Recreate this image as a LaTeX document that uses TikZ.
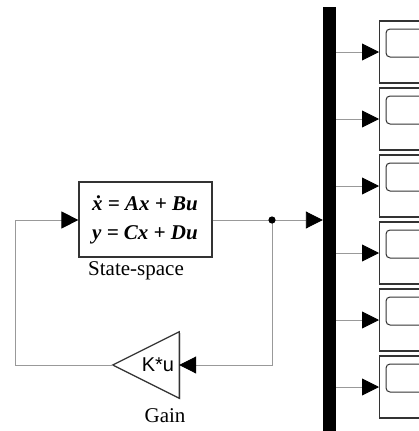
\documentclass[tikz,border=0pt]{standalone}
\usepackage{fontspec}
\setmainfont{Liberation Serif}
\newfontfamily\gainfont{Liberation Sans}
\usetikzlibrary{arrows.meta,shadows,calc}

\tikzset{
  wire/.style={draw=black!40, line width=0.9pt},
  sig/.style={wire, -{Triangle[length=17pt,width=17pt,color=black]}},
  blockbox/.style={draw=black!80, line width=1.2pt, fill=white,
    drop shadow={shadow xshift=1.2pt, shadow yshift=-1.2pt, fill=black!45, opacity=1}},
  scopebox/.style={blockbox, minimum width=80pt, minimum height=62pt, inner sep=0pt},
  screen/.style={draw=black!80, line width=1pt, rounded corners=4pt},
  lbl/.style={font=\fontsize{21}{24}\selectfont, inner sep=0pt},
}

\begin{document}
\begin{tikzpicture}[x=1pt,y=-1pt]
\useasboundingbox (0,0) rectangle (418,431);
\fill[white] (0,0) rectangle (418,431);

% bus bar
\node[fill=black, minimum width=13pt, minimum height=440pt, inner sep=0pt, anchor=north] (bus) at (329.5,7) {};

% state-space block
\node[blockbox, minimum width=133pt, minimum height=75pt, inner sep=0pt] (ss) at (145.5,219.5) {};
\node[lbl, anchor=base] (eq1) at (145,210) {\bfseries\itshape ẋ = Ax + Bu};
\node[lbl, anchor=base] (eq2) at (145,239) {\bfseries\itshape y = Cx + Du};
\node[lbl] (sslabel) at (136,271) {State-space};

% gain block
\node[minimum width=66pt, minimum height=66pt, inner sep=0pt] (gain) at (146,365) {};
\draw[blockbox, line join=miter] (gain.west) -- (gain.north east) -- (gain.south east) -- cycle;
\node[font=\gainfont\fontsize{20}{24}\selectfont, inner sep=0pt] (gaintext) at (158,365) {K*u};
\node[lbl] (gainlabel) at (165,416) {Gain};

% branch point and corner points of the feedback loop
\coordinate (br) at (272,220);
\coordinate (fbr) at (272,365);
\coordinate (fbl) at (15,365);
\coordinate (fin) at (15,220);

% signal lines
\draw[wire] (ss.east |- br) -- (br);
\draw[sig] (br) -- (bus.west |- br);
\draw[sig] (br) -- (fbr) -- (gain.east |- fbr);
\draw[sig] (gain.west) -- (fbl) -- (fin) -- (ss.west |- fin);
\fill[black] (br) circle[radius=3.6pt];

% scope blocks fed from the bus
\foreach \i/\yc in {1/52,2/119,3/186,4/253,5/320,6/387}{
  \node[scopebox, anchor=west] (scope\i) at (379,\yc) {};
  \draw[screen] ($(scope\i.west)+(7,5)$) -- ++(0,-28) -- ++(60,0) -- ++(0,28) -- cycle;
  \draw[sig] (bus.east |- scope\i.west) -- (scope\i.west);
}
\end{tikzpicture}
\end{document}
